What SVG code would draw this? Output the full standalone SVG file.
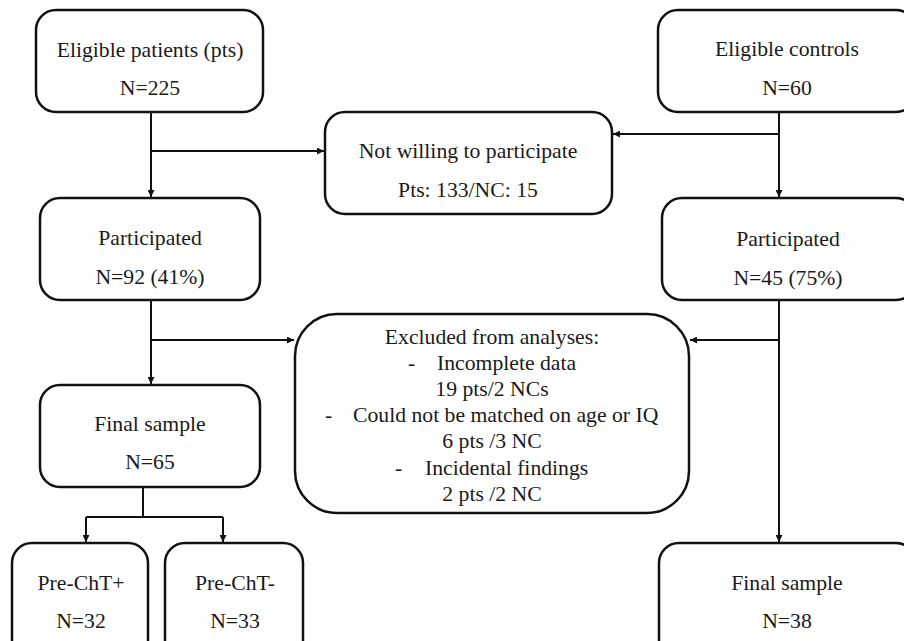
<svg xmlns="http://www.w3.org/2000/svg" width="904" height="641" viewBox="0 0 904 641">
<style>
.box{fill:#fff;stroke:#111;stroke-width:2.5}
text{font-family:'Liberation Serif','DejaVu Serif',serif;font-size:21.7px;fill:#1a1a1a}
.t{text-anchor:middle}
.c{fill:none;stroke:#111;stroke-width:2}
</style>
<defs>
<marker id="ah" viewBox="0 0 10 10" refX="10" refY="5" markerWidth="7" markerHeight="7" markerUnits="userSpaceOnUse" orient="auto">
<path d="M0,0 L10,5 L0,10 z" fill="#111"/>
</marker>
</defs>
<rect width="904" height="641" fill="#fff"/>
<g id="connectors">
<path class="c" d="M151,112 V197" marker-end="url(#ah)"/>
<path class="c" d="M151,151 H324" marker-end="url(#ah)"/>
<path class="c" d="M779,112 V197" marker-end="url(#ah)"/>
<path class="c" d="M779,134 H613" marker-end="url(#ah)"/>
<path class="c" d="M151,300 V384" marker-end="url(#ah)"/>
<path class="c" d="M151,340 H294" marker-end="url(#ah)"/>
<path class="c" d="M779,300 V542" marker-end="url(#ah)"/>
<path class="c" d="M779,340 H690" marker-end="url(#ah)"/>
<path class="c" d="M143,487 V517"/>
<path class="c" d="M86,517 H223"/>
<path class="c" d="M86,517 V542" marker-end="url(#ah)"/>
<path class="c" d="M223,517 V542" marker-end="url(#ah)"/>
</g>
<g id="eligible-patients">
<rect class="box" x="36" y="10" width="227" height="102" rx="20"/>
<text class="t" x="150" y="57" font-family="Liberation Serif">Eligible patients (pts)</text>
<text class="t" x="150" y="95" font-family="Liberation Serif">N=225</text>
</g>
<g id="eligible-controls">
<rect class="box" x="658" y="10" width="258" height="102" rx="20"/>
<text class="t" x="787" y="56">Eligible controls</text>
<text class="t" x="787" y="95">N=60</text>
</g>
<g id="not-willing">
<rect class="box" x="325" y="112" width="287" height="102" rx="20"/>
<text class="t" x="468" y="158">Not willing to participate</text>
<text class="t" x="468" y="197">Pts: 133/NC: 15</text>
</g>
<g id="participated-pts">
<rect class="box" x="40" y="198" width="220" height="102" rx="20"/>
<text class="t" x="150" y="245">Participated</text>
<text class="t" x="150" y="284">N=92 (41%)</text>
</g>
<g id="participated-nc">
<rect class="box" x="662" y="198" width="254" height="102" rx="20"/>
<text class="t" x="788" y="246">Participated</text>
<text class="t" x="788" y="285">N=45 (75%)</text>
</g>
<g id="excluded">
<rect class="box" x="295" y="314" width="394" height="199" rx="42"/>
<text class="t" x="492" y="344">Excluded from analyses:</text>
<text x="408" y="370">-</text>
<text x="437" y="370">Incomplete data</text>
<text class="t" x="492" y="396">19 pts/2 NCs</text>
<text x="325" y="422">-</text>
<text x="353" y="422">Could not be matched on age or IQ</text>
<text class="t" x="492" y="448">6 pts /3 NC</text>
<text x="395" y="475">-</text>
<text x="425" y="475">Incidental findings</text>
<text class="t" x="492" y="501">2 pts /2 NC</text>
</g>
<g id="final-pts">
<rect class="box" x="40" y="385" width="220" height="102" rx="20"/>
<text class="t" x="150" y="431">Final sample</text>
<text class="t" x="150" y="469">N=65</text>
</g>
<g id="pre-cht-plus">
<rect class="box" x="12" y="543" width="136" height="120" rx="20"/>
<text class="t" x="81" y="590">Pre-ChT+</text>
<text class="t" x="81" y="628">N=32</text>
</g>
<g id="pre-cht-minus">
<rect class="box" x="165" y="543" width="138" height="120" rx="20"/>
<text class="t" x="235" y="590">Pre-ChT-</text>
<text class="t" x="235" y="628">N=33</text>
</g>
<g id="final-nc">
<rect class="box" x="659" y="543" width="257" height="120" rx="20"/>
<text class="t" x="787" y="590">Final sample</text>
<text class="t" x="787" y="628">N=38</text>
</g>
</svg>
